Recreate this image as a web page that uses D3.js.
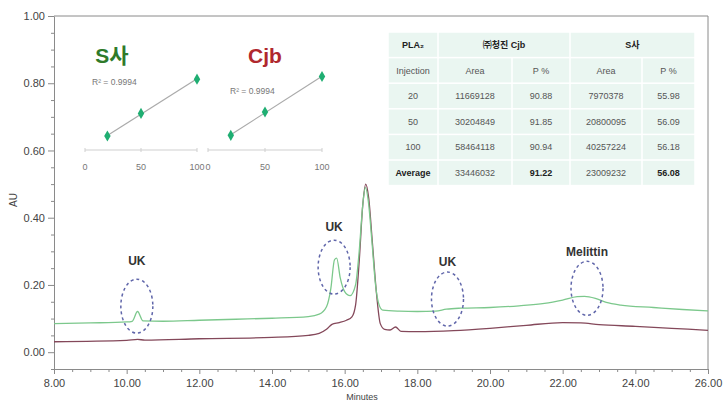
<!DOCTYPE html>
<html>
<head>
<meta charset="utf-8">
<script src="https://cdn.jsdelivr.net/npm/d3@7"></script>
<style>
  html, body { margin: 0; padding: 0; background: #fff; }
  svg { display: block; font-family: "Liberation Sans", Arial, "Noto Sans CJK KR", sans-serif; }
</style>
</head>
<body>
<svg id="chart" width="725" height="402"></svg>
<script>
// HPLC chromatogram traces: [minutes, AU]
const traceS = [
  [8.0,0.085],[9.0,0.087],[10.0,0.090],[10.15,0.092],[10.3,0.121],[10.45,0.093],
  [11.0,0.092],[12.0,0.095],[13.0,0.098],[14.0,0.101],[15.0,0.106],[15.3,0.113],
  [15.5,0.135],[15.62,0.19],[15.72,0.275],[15.78,0.28],[15.88,0.22],[16.0,0.18],
  [16.15,0.168],[16.3,0.2],[16.4,0.3],[16.5,0.44],[16.57,0.49],[16.65,0.45],
  [16.75,0.33],[16.85,0.2],[16.95,0.14],[17.05,0.125],[17.5,0.122],[18.0,0.121],
  [18.5,0.122],[18.8,0.128],[19.2,0.131],[20.0,0.133],[20.8,0.138],[21.5,0.145],
  [22.0,0.155],[22.4,0.165],[22.6,0.166],[22.9,0.16],[23.2,0.148],[23.6,0.14],
  [24.5,0.133],[25.3,0.127],[26.0,0.123]
];
const traceCjb = [
  [8.0,0.031],[10.0,0.035],[10.3,0.038],[10.5,0.036],[12.0,0.040],[14.0,0.044],
  [15.0,0.050],[15.3,0.056],[15.5,0.068],[15.65,0.083],[15.85,0.088],[16.05,0.095],
  [16.2,0.105],[16.3,0.14],[16.4,0.27],[16.5,0.44],[16.58,0.50],[16.66,0.46],
  [16.76,0.33],[16.88,0.17],[16.98,0.085],[17.1,0.068],[17.25,0.066],[17.4,0.075],
  [17.55,0.062],[18.0,0.061],[19.0,0.064],[20.0,0.071],[21.0,0.080],[22.0,0.088],
  [22.5,0.087],[23.0,0.082],[24.0,0.077],[25.0,0.071],[26.0,0.065]
];

// Peak annotations: ellipse centre and label position in data units
const peakLabels = ["UK", "UK", "UK", "Melittin"];
const peakCenters = [[10.28,0.137],[15.71,0.253],[18.83,0.158],[22.67,0.19]];
const peakLabelY = [0.272, 0.372, 0.268, 0.300];

// Axis ticks
const xTicks = [8,10,12,14,16,18,20,22,24,26];
const yTicks = [0,0.2,0.4,0.6,0.8,1.0];

// Calibration (injection volume vs peak area)
const injections = [20, 50, 100];
const areaCjb = [11669128, 30204849, 58464118];
const pctCjb = [90.88, 91.85, 90.94];
const areaS = [7970378, 20800095, 40257224];
const pctS = [55.98, 56.09, 56.18];
const avgAreaCjb = 33446032, avgPctCjb = 91.22;
const avgAreaS = 23009232, avgPctS = 56.08;
const r2Label = "R² = 0.9994";

const svg = d3.select("#chart");
const x = d3.scaleLinear().domain([8, 26]).range([54, 708]);
const y = d3.scaleLinear().domain([-0.05, 1.0]).range([369, 16]);
const axisColor = "#8a8a8a";
const textColor = "#444";

// frame top and right
svg.append("line").attr("x1", 54).attr("x2", 708).attr("y1", 16).attr("y2", 16).attr("stroke", axisColor);
svg.append("line").attr("x1", 708).attr("x2", 708).attr("y1", 16).attr("y2", 369).attr("stroke", axisColor);

// y axis
const yMinor = d3.range(-0.05, 1.0001, 0.05).map(v => +v.toFixed(2)).filter(v => !yTicks.includes(v));
svg.append("g").attr("transform", "translate(54,0)")
  .call(d3.axisLeft(y).tickValues(yTicks).tickFormat(d3.format(".2f")).tickSize(6).tickSizeOuter(0));
svg.append("g").attr("transform", "translate(54,0)")
  .call(d3.axisLeft(y).tickValues(yMinor).tickFormat("").tickSize(3).tickSizeOuter(0))
  .select(".domain").remove();

// x axis
const xMinor = d3.range(8, 26.001, 0.5).filter(v => !xTicks.includes(v));
const xAx = svg.append("g").attr("transform", "translate(0,369)")
  .call(d3.axisBottom(x).tickValues(xTicks).tickFormat(d3.format(".2f")).tickSize(5).tickSizeOuter(0));
svg.append("g").attr("transform", "translate(0,369)")
  .call(d3.axisBottom(x).tickValues(xMinor).tickFormat("").tickSize(3).tickSizeOuter(0))
  .select(".domain").remove();

svg.selectAll(".domain, .tick line").attr("stroke", axisColor);
svg.selectAll(".tick text").attr("fill", textColor).attr("font-size", 11);
xAx.selectAll(".tick text").attr("dy", "0.9em");

svg.append("text").attr("x", 362).attr("y", 400).attr("text-anchor", "middle")
  .attr("font-size", 9).attr("fill", textColor).text("Minutes");
svg.append("text").attr("transform", "translate(17,200) rotate(-90)").attr("text-anchor", "middle")
  .attr("font-size", 10).attr("fill", textColor).text("AU");

// traces
const line = d3.line().x(d => x(d[0])).y(d => y(d[1])).curve(d3.curveMonotoneX);
svg.append("path").datum(traceCjb).attr("d", line).attr("fill", "none")
  .attr("stroke", "#84485a").attr("stroke-width", 1.3);
svg.append("path").datum(traceS).attr("d", line).attr("fill", "none")
  .attr("stroke", "#7cc88c").attr("stroke-width", 1.3);

// peak annotations
peakCenters.forEach((c, i) => {
  svg.append("ellipse").attr("cx", x(c[0])).attr("cy", y(c[1])).attr("rx", 16).attr("ry", 27)
    .attr("fill", "none").attr("stroke", "#6066aa").attr("stroke-width", 1.5)
    .attr("stroke-dasharray", "3,3");
  svg.append("text").attr("x", x(c[0])).attr("y", y(peakLabelY[i])).attr("dy", "0.35em")
    .attr("text-anchor", "middle").attr("font-size", 12).attr("font-weight", "bold")
    .attr("fill", "#333").text(peakLabels[i]);
});

// calibration insets
function inset(x0, x1, yMax, areas, title, titleColor, titleX, r2X, r2Y) {
  const sx = d3.scaleLinear().domain([0, 100]).range([x0, x1]);
  const sy = d3.scaleLinear().domain([0, yMax]).range([150, 62]);
  const g = svg.append("g");
  g.append("line").attr("x1", x0).attr("x2", x1).attr("y1", 150).attr("y2", 150)
    .attr("stroke", "#cfcfcf");
  [0, 50, 100].forEach(t => {
    g.append("line").attr("x1", sx(t)).attr("x2", sx(t)).attr("y1", 148).attr("y2", 152).attr("stroke", "#cfcfcf");
    g.append("text").attr("x", sx(t)).attr("y", 170).attr("text-anchor", "middle")
      .attr("font-size", 9).attr("fill", "#777").text(t);
  });
  // least-squares trend line
  const mx = d3.mean(injections), my = d3.mean(areas);
  const slope = d3.sum(injections, (v, i) => (v - mx) * (areas[i] - my)) / d3.sum(injections, v => (v - mx) ** 2);
  const icpt = my - slope * mx;
  g.append("line").attr("x1", sx(20)).attr("y1", sy(icpt + slope * 20))
    .attr("x2", sx(100)).attr("y2", sy(icpt + slope * 100)).attr("stroke", "#aaa").attr("stroke-width", 1.2);
  g.selectAll("path.pt").data(injections).join("path").attr("class", "pt")
    .attr("d", d3.symbol(d3.symbolDiamond, 36))
    .attr("transform", (d, i) => `translate(${sx(d)},${sy(areas[i])})`)
    .attr("fill", "#1fae72");
  g.append("text").attr("x", titleX).attr("y", 63).attr("text-anchor", "middle")
    .attr("font-size", 21).attr("font-weight", "bold").attr("fill", titleColor).text(title);
  g.append("text").attr("x", r2X).attr("y", r2Y).attr("font-size", 8.5).attr("fill", "#777").text(r2Label);
}
inset(85, 197, 50e6, areaS, "S사", "#2f7a2a", 112, 92, 85);
inset(208, 322, 70e6, areaCjb, "Cjb", "#b0282e", 265, 230, 94);

// summary table
const tX = [388, 438, 512, 570, 642, 695];
const tY0 = 32, rowH = 25.6, gap = 1.5;
const tbl = svg.append("g").attr("font-size", 9);
const cellBg = "#eaf6f1";
function cell(c0, c1, r, txt, bold) {
  tbl.append("rect").attr("x", tX[c0] + gap / 2).attr("y", tY0 + r * rowH + gap / 2)
    .attr("width", tX[c1] - tX[c0] - gap).attr("height", rowH - gap).attr("fill", cellBg);
  tbl.append("text").attr("x", (tX[c0] + tX[c1]) / 2).attr("y", tY0 + r * rowH + rowH / 2)
    .attr("dy", "0.35em").attr("text-anchor", "middle")
    .attr("fill", bold ? "#222" : "#555").attr("font-weight", bold ? "bold" : "normal").text(txt);
}
cell(0, 1, 0, "PLA₂", true);
cell(1, 3, 0, "㈜청진 Cjb", true);
cell(3, 5, 0, "S사", true);
["Injection", "Area", "P %", "Area", "P %"].forEach((t, i) => cell(i, i + 1, 1, t, false));
injections.forEach((inj, r) => {
  cell(0, 1, r + 2, inj, false);
  cell(1, 2, r + 2, areaCjb[r], false);
  cell(2, 3, r + 2, pctCjb[r].toFixed(2), false);
  cell(3, 4, r + 2, areaS[r], false);
  cell(4, 5, r + 2, pctS[r].toFixed(2), false);
});
cell(0, 1, 5, "Average", true);
cell(1, 2, 5, avgAreaCjb, false);
cell(2, 3, 5, avgPctCjb.toFixed(2), true);
cell(3, 4, 5, avgAreaS, false);
cell(4, 5, 5, avgPctS.toFixed(2), true);
</script>
</body>
</html>
